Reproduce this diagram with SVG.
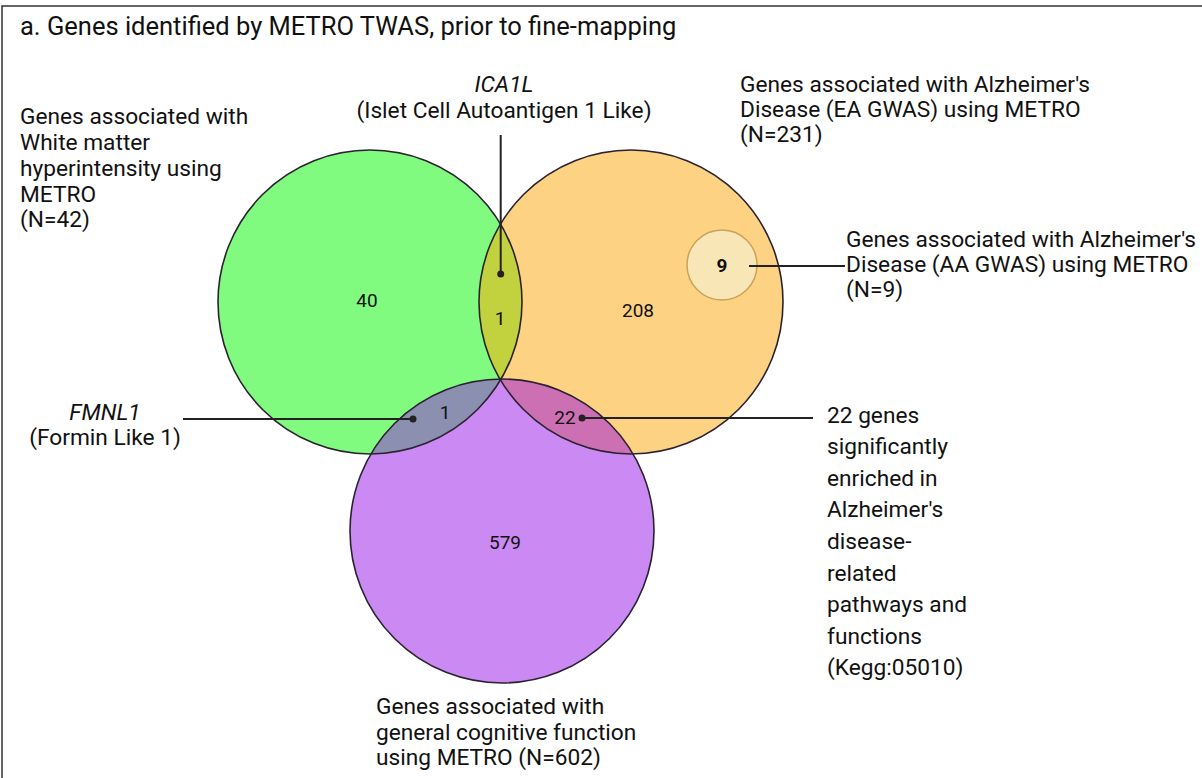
<svg xmlns="http://www.w3.org/2000/svg" width="1202" height="778" viewBox="0 0 1202 778">
<style>
text{font-family:Roboto,"Liberation Sans",sans-serif;fill:#111}
.lbl{font-size:22.7px}
.num{font-size:19px;text-anchor:middle;dominant-baseline:central}
.ring{fill:none;stroke:#2a2230;stroke-width:1.6}
.con{stroke:#222;stroke-width:2;fill:none}
.dot{fill:#222}
</style>
<defs>
<clipPath id="cg"><circle cx="370" cy="302" r="152"/></clipPath>
<clipPath id="co"><circle cx="631" cy="302" r="152"/></clipPath>
</defs>
<rect width="1202" height="778" fill="#fff"/>
<path d="M2,778 V6 H1202" fill="none" stroke="#333" stroke-width="1.5"/>
<text x="20" y="35" style="font-size:25.5px">a. Genes identified by METRO TWAS, prior to fine-mapping</text>

<g id="set-wmh">
<circle cx="370" cy="302" r="152" fill="#81fb7f"/>
</g>
<g id="set-ea">
<circle cx="631" cy="302" r="152" fill="#fed283"/>
</g>
<g id="set-gcf">
<circle cx="502" cy="531" r="152" fill="#cb8af3"/>
</g>
<g id="overlaps">
<circle cx="631" cy="302" r="152" fill="#c2d23e" clip-path="url(#cg)"/>
<circle cx="502" cy="531" r="152" fill="#8b8fb0" clip-path="url(#cg)"/>
<circle cx="502" cy="531" r="152" fill="#cc70b3" clip-path="url(#co)"/>
</g>
<g id="outlines">
<circle class="ring" cx="370" cy="302" r="152"/>
<circle class="ring" cx="631" cy="302" r="152"/>
<circle class="ring" cx="502" cy="531" r="152"/>
</g>
<g id="set-aa">
<circle cx="722" cy="265" r="35" fill="#f9e6b6" stroke="#c8a35a" stroke-width="1.5"/>
<text class="num" x="722" y="265" style="font-weight:bold">9</text>
</g>

<g id="counts">
<text class="num" x="367" y="300">40</text>
<text class="num" x="500" y="318">1</text>
<text class="num" x="445" y="412">1</text>
<text class="num" x="565" y="417">22</text>
<text class="num" x="638" y="310">208</text>
<text class="num" x="505" y="542">579</text>
</g>

<g id="connectors">
<line class="con" x1="500.7" y1="135" x2="500.7" y2="274"/>
<circle class="dot" cx="500.7" cy="274" r="3.5"/>
<line class="con" x1="183" y1="419" x2="413" y2="419"/>
<circle class="dot" cx="413" cy="419" r="3.5"/>
<line class="con" x1="582" y1="418" x2="813" y2="418"/>
<circle class="dot" cx="582" cy="418" r="3.5"/>
<line class="con" x1="749" y1="266" x2="845" y2="266"/>
</g>

<g id="label-wmh">
<text class="lbl" x="20" y="124">Genes associated with</text>
<text class="lbl" x="20" y="150">White matter</text>
<text class="lbl" x="20" y="176">hyperintensity using</text>
<text class="lbl" x="20" y="202">METRO</text>
<text class="lbl" x="20" y="227">(N=42)</text>
</g>
<g id="label-ica1l">
<text class="lbl" x="504" y="92" text-anchor="middle" font-style="italic">ICA1L</text>
<text class="lbl" x="504" y="118" text-anchor="middle">(Islet Cell Autoantigen 1 Like)</text>
</g>
<g id="label-ea">
<text class="lbl" x="740" y="92">Genes associated with Alzheimer's</text>
<text class="lbl" x="740" y="117">Disease (EA GWAS) using METRO</text>
<text class="lbl" x="740" y="142">(N=231)</text>
</g>
<g id="label-aa">
<text class="lbl" x="846" y="247">Genes associated with Alzheimer's</text>
<text class="lbl" x="846" y="272">Disease (AA GWAS) using METRO</text>
<text class="lbl" x="846" y="297">(N=9)</text>
</g>
<g id="label-fmnl1">
<text class="lbl" x="105" y="420" text-anchor="middle" font-style="italic">FMNL1</text>
<text class="lbl" x="105" y="445" text-anchor="middle">(Formin Like 1)</text>
</g>
<g id="label-22">
<text class="lbl" x="827" y="423">22 genes</text>
<text class="lbl" x="827" y="454">significantly</text>
<text class="lbl" x="827" y="486">enriched in</text>
<text class="lbl" x="827" y="517">Alzheimer's</text>
<text class="lbl" x="827" y="549">disease-</text>
<text class="lbl" x="827" y="581">related</text>
<text class="lbl" x="827" y="612">pathways and</text>
<text class="lbl" x="827" y="644">functions</text>
<text class="lbl" x="827" y="675">(Kegg:05010)</text>
</g>
<g id="label-gcf">
<text class="lbl" x="376" y="714">Genes associated with</text>
<text class="lbl" x="376" y="740">general cognitive function</text>
<text class="lbl" x="376" y="765">using METRO (N=602)</text>
</g>
</svg>
